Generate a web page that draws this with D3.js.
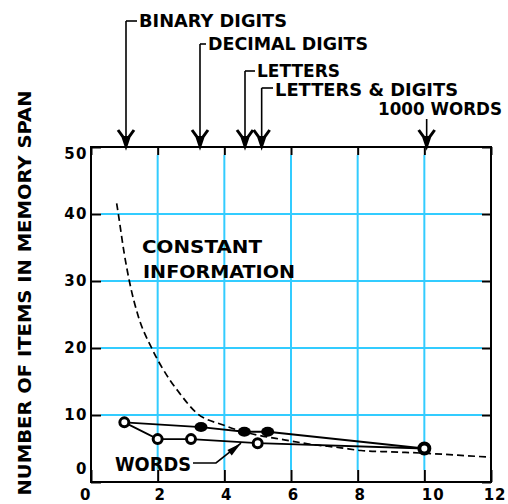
<!DOCTYPE html>
<html>
<head>
<meta charset="utf-8">
<script src="https://cdn.jsdelivr.net/npm/d3@7"></script>
<style>
  body { margin: 0; background: #fff; }
  text { font-family: "DejaVu Sans", sans-serif; font-weight: bold; }
</style>
</head>
<body>
<div id="chart"></div>
<script>
// tick values
var xTicks = [0, 2, 4, 6, 8, 10, 12];
var yTicks = [0, 10, 20, 30, 40, 50];

// dashed "constant information" curve
var curveX = [0.77, 0.82, 1.0, 1.15, 1.42, 1.82, 2.37, 2.62, 3.17, 3.97, 4.5, 5.0, 5.8, 6.5, 7.5, 8.1, 9.0, 10.0, 11.0, 12.0];
var curveY = [41.6, 40, 34, 30, 24.7, 20, 15.2, 13.5, 10.3, 8.5, 7.6, 7.0, 6.3, 5.7, 5.1, 4.7, 4.5, 4.3, 4.0, 3.7];

// filled-circle series
var filledX = [1, 3.3, 4.6, 5.3, 10];
var filledY = [8.9, 8.2, 7.5, 7.5, 5.0];

// open-circle series
var openX = [1, 2, 3, 5, 10];
var openY = [8.9, 6.4, 6.4, 5.8, 5.0];

// material arrows along the top (bits per item)
var arrowLabels = ["BINARY DIGITS", "DECIMAL DIGITS", "LETTERS", "LETTERS & DIGITS", "1000 WORDS"];
var arrowBits = [1.05, 3.27, 4.62, 5.12, 10.07];

// "WORDS" pointer target
var wordsX = 4.5, wordsY = 5.8;

// layout of the arrow labels
var hookY = [21, 44, 71, 88, 119];
var labelX = [139, 208, 257, 275, 378];
var labelBase = [27, 50, 77, 96, 115];
var labelLen = [148, 160, 83, 183, 124];

var W = 508, H = 504;
var grid = "#33ccff";

var svg = d3.select("#chart").append("svg")
    .attr("width", W)
    .attr("height", H);

var x = d3.scaleLinear().domain([0, 12]).range([91, 491]);
var y = d3.scaleLinear().domain([0, 50]).range([482, 147]);

// grid lines
svg.append("g").selectAll("line")
    .data(xTicks.filter(function(d) { return d > 0 && d < 12; }))
  .enter().append("line")
    .attr("x1", function(d) { return x(d); })
    .attr("x2", function(d) { return x(d); })
    .attr("y1", y(50) + 8)
    .attr("y2", y(0) - 12)
    .attr("stroke", grid)
    .attr("stroke-width", 2);

svg.append("g").selectAll("line")
    .data(yTicks.filter(function(d) { return d > 0 && d < 50; }))
  .enter().append("line")
    .attr("x1", x(0) + 10)
    .attr("x2", x(12) - 9)
    .attr("y1", function(d) { return y(d); })
    .attr("y2", function(d) { return y(d); })
    .attr("stroke", grid)
    .attr("stroke-width", 2);

// axes with inward ticks
var left = svg.append("g")
    .attr("transform", "translate(" + x(0) + ",0)")
    .call(d3.axisLeft(y).tickValues(yTicks).tickSize(-10).tickPadding(3));
left.selectAll("text")
    .attr("dy", function(d) { return d === 50 ? "0.75em" : d === 0 ? "-0.6em" : "0.32em"; });

var bottom = svg.append("g")
    .attr("transform", "translate(0," + y(0) + ")")
    .call(d3.axisBottom(x).tickValues(xTicks).tickSize(-12).tickPadding(7));
bottom.selectAll("text")
    .attr("text-anchor", function(d) { return d === 0 ? "end" : d === 12 ? "end" : d === 10 ? "start" : "middle"; })
    .attr("dx", function(d) { return d === 0 ? 0 : d === 12 ? 15 : d === 10 ? -3 : 2; });

svg.append("g")
    .attr("transform", "translate(" + x(12) + ",0)")
    .call(d3.axisRight(y).tickValues(yTicks).tickSize(-9).tickFormat(""));

svg.append("g")
    .attr("transform", "translate(0," + y(50) + ")")
    .call(d3.axisTop(x).tickValues(xTicks).tickSize(-8).tickFormat(""));

svg.selectAll(".domain").remove();
svg.selectAll(".tick line").attr("stroke", "#000").attr("stroke-width", 2);
svg.selectAll(".tick text")
    .attr("font-family", "DejaVu Sans, sans-serif")
    .attr("font-weight", "bold")
    .attr("font-size", 15)
    .attr("fill", "#000");
left.selectAll("text").attr("letter-spacing", 1.5);
bottom.selectAll("text").attr("letter-spacing", 1);

// frame
svg.append("rect")
    .attr("x", x(0)).attr("y", y(50))
    .attr("width", x(12) - x(0)).attr("height", y(0) - y(50))
    .attr("fill", "none")
    .attr("stroke", "#000")
    .attr("stroke-width", 2);

// constant information curve
var curve = curveX.map(function(d, i) { return [d, curveY[i]]; });
svg.append("path")
    .datum(curve)
    .attr("fill", "none")
    .attr("stroke", "#000")
    .attr("stroke-width", 1.7)
    .attr("stroke-dasharray", "7,4")
    .attr("d", d3.line()
        .curve(d3.curveMonotoneX)
        .x(function(d) { return x(d[0]); })
        .y(function(d) { return y(d[1]); }));

var line = d3.line()
    .x(function(d) { return x(d[0]); })
    .y(function(d) { return y(d[1]); });

var filled = filledX.map(function(d, i) { return [d, filledY[i]]; });
var open = openX.map(function(d, i) { return [d, openY[i]]; });

svg.append("path").datum(filled)
    .attr("fill", "none").attr("stroke", "#000").attr("stroke-width", 1.8)
    .attr("d", line);
svg.append("path").datum(open)
    .attr("fill", "none").attr("stroke", "#000").attr("stroke-width", 1.8)
    .attr("d", line);

// markers
svg.append("g").selectAll("ellipse")
    .data(filled.filter(function(d, i) { return i > 0 && i < filled.length - 1; }))
  .enter().append("ellipse")
    .attr("cx", function(d) { return x(d[0]); })
    .attr("cy", function(d) { return y(d[1]); })
    .attr("rx", 6.5).attr("ry", 5)
    .attr("fill", "#000");

svg.append("g").selectAll("circle")
    .data(open)
  .enter().append("circle")
    .attr("cx", function(d) { return x(d[0]); })
    .attr("cy", function(d) { return y(d[1]); })
    .attr("r", function(d, i) { return i === open.length - 1 ? 5 : 4.5; })
    .attr("fill", "#fff")
    .attr("stroke", "#000")
    .attr("stroke-width", function(d, i) { return i === open.length - 1 ? 4 : 3; });

// text annotations
svg.append("text")
    .attr("transform", "translate(31,293) rotate(-90)")
    .attr("text-anchor", "middle")
    .attr("font-size", 17)
    .attr("textLength", 405)
    .attr("lengthAdjust", "spacingAndGlyphs")
    .text("NUMBER OF ITEMS IN MEMORY SPAN");

svg.append("text")
    .attr("x", 142).attr("y", 253)
    .attr("font-size", 18)
    .attr("textLength", 120)
    .attr("lengthAdjust", "spacingAndGlyphs")
    .text("CONSTANT");
svg.append("text")
    .attr("x", 143).attr("y", 278)
    .attr("font-size", 18)
    .attr("textLength", 152)
    .attr("lengthAdjust", "spacingAndGlyphs")
    .text("INFORMATION");

// arrows from the material labels
arrowLabels.forEach(function(label, i) {
  var ax = x(arrowBits[i]);
  svg.append("line")
      .attr("x1", ax).attr("x2", ax)
      .attr("y1", hookY[i]).attr("y2", y(50) - 3)
      .attr("stroke", "#000").attr("stroke-width", 1.6);
  if (i < arrowLabels.length - 1) {
    svg.append("line")
        .attr("x1", ax).attr("x2", labelX[i] - 2)
        .attr("y1", hookY[i]).attr("y2", hookY[i])
        .attr("stroke", "#000").attr("stroke-width", 1.6);
  }
  svg.append("path")
      .attr("transform", "translate(" + ax + "," + (y(50) - 1) + ")")
      .attr("d", "M-8,-16 L-3,-9 L0,0 L3,-9 L8,-16")
      .attr("fill", "none").attr("stroke", "#000").attr("stroke-width", 3);
  svg.append("path")
      .attr("transform", "translate(" + ax + "," + (y(50) - 1) + ")")
      .attr("d", "M-4,-10 L4,-10 L0,0 Z")
      .attr("fill", "#000");
  svg.append("text")
      .attr("x", labelX[i]).attr("y", labelBase[i])
      .attr("font-size", 17)
      .attr("textLength", labelLen[i])
      .attr("lengthAdjust", "spacingAndGlyphs")
      .text(label);
});

// WORDS pointer
svg.append("text")
    .attr("x", 115).attr("y", 471)
    .attr("font-size", 19)
    .attr("textLength", 76)
    .attr("lengthAdjust", "spacingAndGlyphs")
    .text("WORDS");

var tx = x(wordsX), ty = y(wordsY);
svg.append("path")
    .attr("d", "M193,463 L216,463 L" + tx + "," + ty)
    .attr("fill", "none").attr("stroke", "#000").attr("stroke-width", 1.6);
var ang = Math.atan2(ty - 463, tx - 216) * 180 / Math.PI;
svg.append("path")
    .attr("transform", "translate(" + tx + "," + ty + ") rotate(" + ang + ")")
    .attr("d", "M0,0 L-15,-3 L-15,4 Z")
    .attr("fill", "#000");
</script>
</body>
</html>
